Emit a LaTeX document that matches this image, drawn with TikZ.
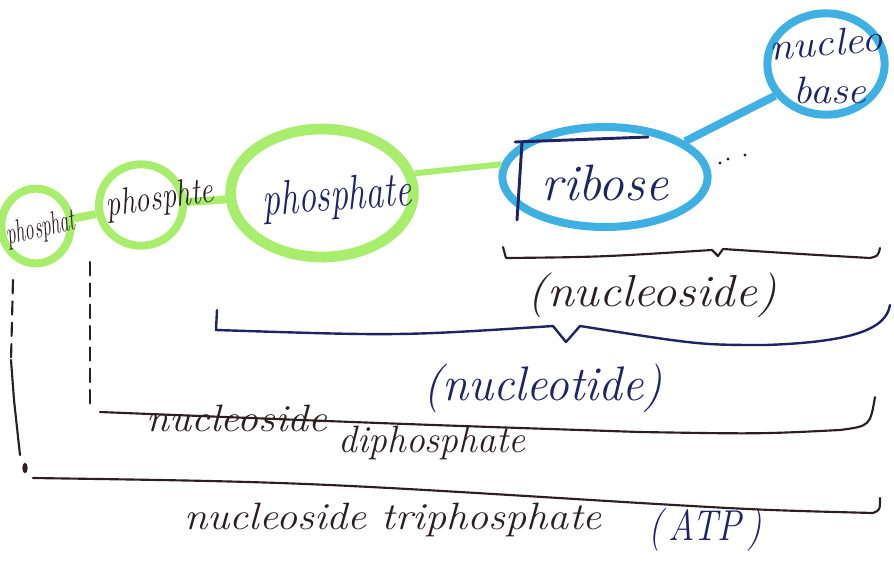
\documentclass[tikz,border=0pt]{standalone}
\usetikzlibrary{shapes.geometric}
\definecolor{lime}{HTML}{A8EE6C}
\definecolor{sky}{HTML}{3FB0E2}
\definecolor{navy}{HTML}{1F2462}
\definecolor{ink}{HTML}{2B1F22}
\begin{document}
\begin{tikzpicture}[x=0.75pt,y=-0.75pt,
  grn/.style={ellipse, draw=lime, line width=6pt, inner sep=0pt},
  blu/.style={ellipse, draw=sky, line width=6pt, inner sep=0pt},
  grnline/.style={draw=lime, line width=6pt},
  bluline/.style={draw=sky, line width=6pt},
  inkline/.style={draw=ink, line width=1.6pt, line cap=round, line join=round},
  navyline/.style={draw=navy, line width=1.8pt, line cap=round, line join=round},
  hand/.style={font=\itshape, text=ink, inner sep=0pt},
  handn/.style={font=\itshape, text=navy, inner sep=0pt}]
\useasboundingbox[fill=white] (0,0) rectangle (894,562);

% ellipses
\node[grn, minimum width=52pt, minimum height=56pt] (p1) at (36,226) {};
\node[grn, minimum width=63pt, minimum height=61pt] (p2) at (141,205) {};
\node[grn, line width=8pt, minimum width=137pt, minimum height=96pt] (p3) at (322,193) {};
\node[blu, minimum width=154pt, minimum height=75pt] (rib) at (605,177) {};
\node[blu, minimum width=88pt, minimum height=76pt] (nb) at (826,64) {};

% connectors
\draw[grnline] (p1) -- (p2);
\draw[grnline] (p2) -- (p3);
\draw[grnline, line width=4.5pt] (p3.12) -- (rib.173);
\draw[bluline] (rib.24) -- (nb.212);

% texts inside
\node[hand, rotate=12, font=\itshape\fontsize{16}{16}\selectfont] (t1) at (41,229) {\scalebox{0.88}[1.5]{phosphat}};
\node[hand, rotate=8, font=\itshape\fontsize{20}{20}\selectfont] (t2) at (160,200) {\scalebox{1.1}[1.4]{phosphte}};
\node[handn, rotate=4, font=\itshape\fontsize{26}{26}\selectfont] (t3) at (337,198) {\scalebox{1.03}[1.4]{phosphate}};
\node[handn, font=\itshape\fontsize{32}{32}\selectfont] (t4) at (605,183) {\scalebox{1.2}[1.2]{ribose}};
\node[handn, rotate=5, font=\itshape\fontsize{26}{26}\selectfont] (t5) at (826,43) {\scalebox{1.23}[1.1]{nucleo}};
\node[handn, font=\itshape\fontsize{26}{26}\selectfont] (t6) at (830,90) {\scalebox{1.2}[1.1]{base}};

% mark in ribose
\draw[navyline, line width=2.2pt] (515,142) -- (648,137);
\draw[navyline, line width=2.2pt] (522,143) -- (517,220);

% dots
\fill[ink] (720,163) circle (1.2pt) (728,159) circle (1.2pt) (745,155) circle (1.2pt);

% nucleoside brace
\draw[inkline] (503,247) -- (506,258) .. controls (600,257) .. (712,250) -- (718,256) -- (723,249) .. controls (800,254) .. (870,258) .. controls (878,256) .. (880,248);
\node[hand, font=\itshape\fontsize{28}{28}\selectfont] (l1) at (652,295) {\scalebox{1.3}[1.2]{(nucleoside)}};

% nucleotide brace
\draw[navyline] (217,310) -- (216,330) .. controls (400,336) .. (553,326) -- (566,342) -- (580,326) .. controls (700,345) .. (766,345) .. controls (850,342) and (886,330) .. (890,305);
\node[handn, font=\itshape\fontsize{28}{28}\selectfont] (l2) at (543,388) {\scalebox{1.27}[1.3]{(nucleotide)}};

% diphosphate
\draw[inkline, dashed, dash pattern=on 10pt off 6pt] (90,262) -- (90,407);
\draw[inkline] (100,412) .. controls (400,424) .. (640,432) .. controls (760,434) .. (840,430) .. controls (870,426) .. (875,397);
\node[hand, font=\itshape\fontsize{22}{22}\selectfont] (l3) at (237,418) {\scalebox{1.42}[1.3]{nucleoside}};
\node[hand, font=\itshape\fontsize{22}{22}\selectfont] (l4) at (432,443) {\scalebox{1.28}[1.3]{diphosphate}};

% triphosphate
\draw[inkline, dashed, dash pattern=on 10pt off 6pt] (13,280) -- (11,360);
\draw[inkline] (11,360) -- (14,400) -- (20,455);
\fill[ink] (25,468) ellipse (2pt and 4pt);
\draw[inkline] (33,478) .. controls (300,482) .. (640,503) .. controls (760,510) .. (873,513) .. controls (880,510) .. (880,498);
\node[hand, font=\itshape\fontsize{22}{22}\selectfont] (l5) at (393,520) {\scalebox{1.44}[1.3]{nucleoside triphosphate}};
\node[handn, font=\itshape\fontsize{27}{27}\selectfont] (l6) at (705,530) {\scalebox{1}[1.2]{(\,ATP\,)}};
\end{tikzpicture}
\end{document}
